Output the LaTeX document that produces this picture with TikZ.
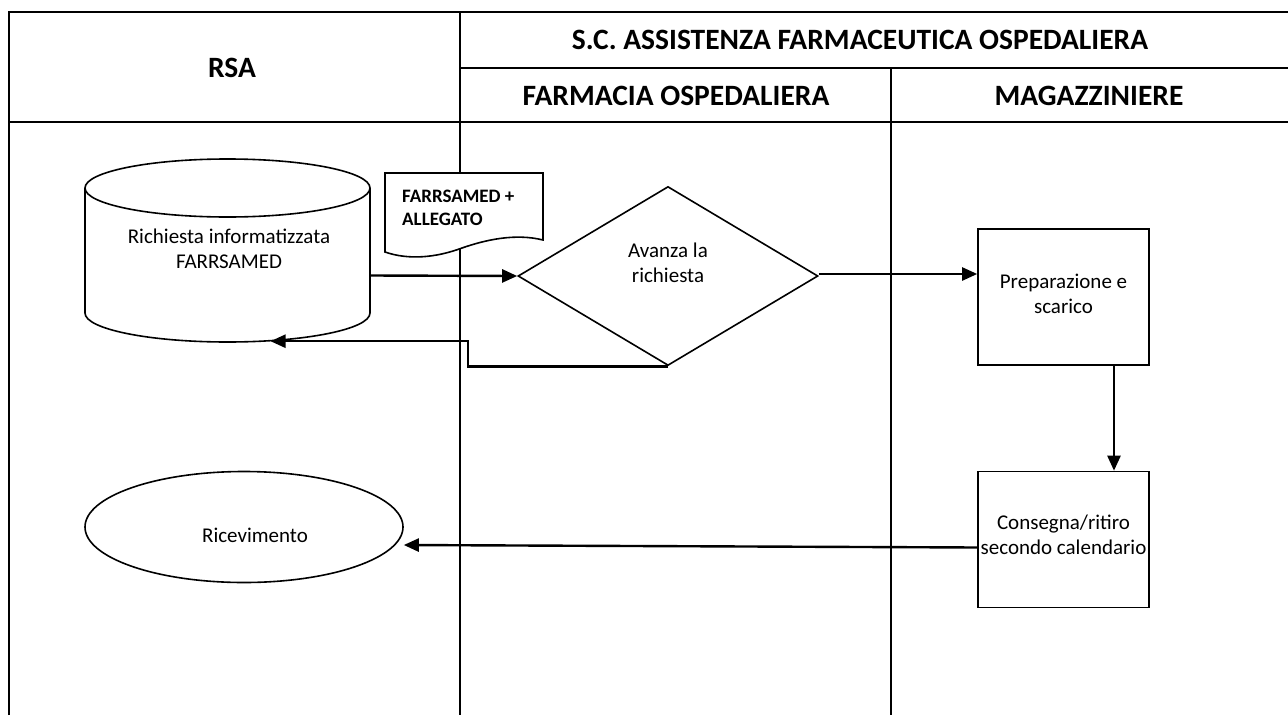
\documentclass[tikz,border=0pt]{standalone}
\usepackage{fontspec}
\setmainfont{Carlito}
\usetikzlibrary{arrows.meta,shapes.geometric}
\begin{document}
\begin{tikzpicture}[x=1pt,y=-1pt,
  tline/.style={line width=2.3pt},
  shapeline/.style={line width=1.6pt},
  arr/.style={line width=2.4pt,-{Triangle[length=15pt,width=13pt]}},
  hdr/.style={font=\fontsize{29.5}{34}\selectfont\bfseries},
  body/.style={font=\fontsize{21}{25}\selectfont,align=center},
  procbox/.style={draw,shapeline,rectangle,minimum width=171pt,minimum height=136pt,inner sep=0pt}
]
\useasboundingbox (0,0) rectangle (1288,715);
% table
\draw[tline] (9,715) -- (9,12) -- (1288,12);
\draw[tline] (460,12) -- (460,715);
\draw[tline] (891,68) -- (891,715);
\draw[tline] (460,68) -- (1288,68);
\draw[tline] (9,122) -- (1288,122);
\node[hdr] (hrsa) at (232,68) {RSA};
\node[hdr] (hsc) at (860,40) {S.C. ASSISTENZA FARMACEUTICA OSPEDALIERA};
\node[hdr] (hfo) at (676,96) {FARMACIA OSPEDALIERA};
\node[hdr] (hmag) at (1089,96) {MAGAZZINIERE};
% cylinder
\node[minimum width=285pt,minimum height=183pt,inner sep=0pt] (cyl) at (227.5,250.5) {};
\draw[shapeline,fill=white] (85,188) -- (85,313) arc[start angle=180,end angle=360,x radius=142.5,y radius=-29] -- (370,188);
\draw[shapeline] (227.5,188) ellipse[x radius=142.5,y radius=29];
\node[body] (cyltext) at (229,249) {Richiesta informatizzata\\FARRSAMED};
% document
\draw[shapeline,fill=white] (385,173) -- (543,173) -- (543,240)
  .. controls (515,233) and (485,240) .. (462,248)
  .. controls (435,258) and (408,260) .. (385,252) -- cycle;
\node[font=\fontsize{19}{23}\selectfont\bfseries,align=left,anchor=north west,inner sep=0pt] (doc) at (402,190) {FARRSAMED +\\ALLEGATO};
% diamond
\node[draw,shapeline,diamond,minimum width=300pt,minimum height=179pt,inner sep=0pt] (dia) at (668,276) {};
\node[body] (diatext) at (668,263) {Avanza la\\richiesta};
% boxes
\node[procbox] (box1) at (1063.5,297) {};
\node[body] (box1text) at (1063.5,294) {Preparazione e\\scarico};
\node[procbox] (box2) at (1063.5,539.5) {};
\node[body] (box2text) at (1063.5,535) {Consegna/ritiro\\secondo calendario};
% ellipse
\node[draw,shapeline,ellipse,minimum width=318pt,minimum height=111pt,inner sep=0pt] (ell) at (244,527) {};
\node[body] (elltext) at (255,535) {Ricevimento};
% connectors
\draw[arr] ([yshift=-25pt]cyl.east) -- (dia.west);
\draw[arr] (dia.south) -- ++(-200,0) |- ([xshift=43pt,yshift=1pt]cyl.south);
\draw[arr] ([yshift=2pt]dia.east) -- ([yshift=2pt]dia.east -| box1.west);
\draw[arr] ([xshift=50.5pt]box1.south) -- ([xshift=50.5pt]box2.north);
\draw[arr] ([yshift=-8pt]box2.west) -- ([yshift=-18pt]ell.east);
\end{tikzpicture}
\end{document}
